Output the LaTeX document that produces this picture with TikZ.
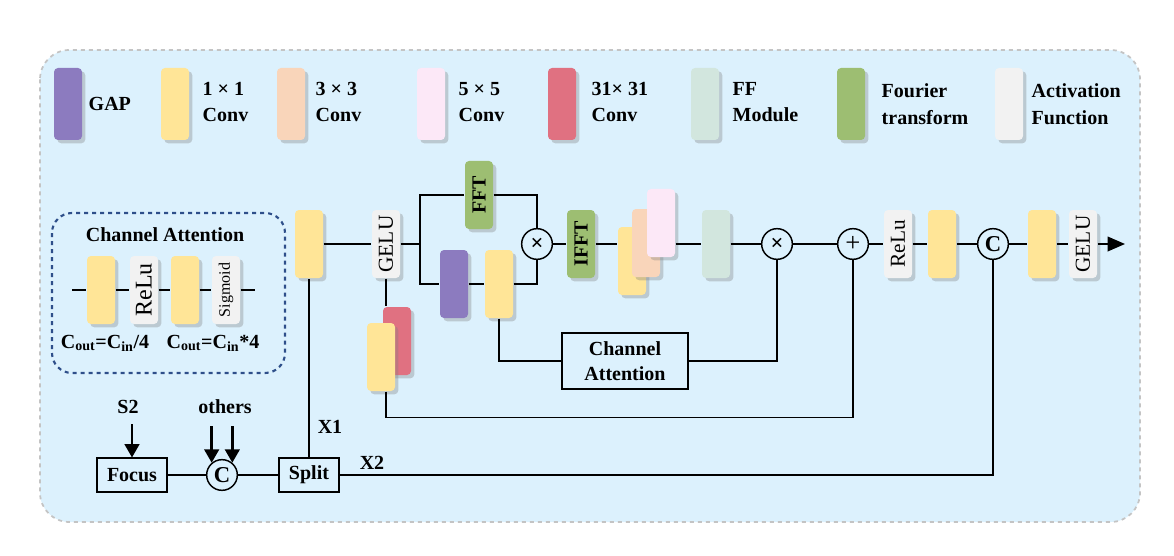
\documentclass[tikz,border=0pt]{standalone}
\usepackage{fontspec}
\setmainfont{Liberation Serif}
\usetikzlibrary{arrows.meta,shadows}

\definecolor{bgblue}{HTML}{DCF1FD}
\definecolor{bggray}{HTML}{C4C4C4}
\definecolor{cablue}{HTML}{2E4F8A}
\definecolor{yel}{HTML}{FFE597}
\definecolor{peach}{HTML}{F9D5BA}
\definecolor{pinky}{HTML}{FCE8F7}
\definecolor{redc}{HTML}{E07181}
\definecolor{purp}{HTML}{8C7BBF}
\definecolor{mint}{HTML}{D2E6DE}
\definecolor{fgreen}{HTML}{9DBE72}
\definecolor{actgray}{HTML}{F2F2F2}

\newcommand{\vtext}[1]{\rotatebox{90}{#1}}

\tikzset{
  blockbase/.style={rounded corners=3pt, minimum width=21pt, minimum height=51pt, inner sep=0pt,
    drop shadow={shadow xshift=2.5pt, shadow yshift=-2.5pt, opacity=0.35}},
  legblk/.style={minimum height=54pt},
  convone/.style={blockbase, fill=yel},
  convthree/.style={blockbase, fill=peach},
  convfive/.style={blockbase, fill=pinky},
  convbig/.style={blockbase, fill=redc},
  gapblk/.style={blockbase, fill=purp},
  ffblk/.style={blockbase, fill=mint},
  fftblk/.style={blockbase, fill=fgreen, font=\bfseries\fontsize{15}{15}\selectfont},
  actblk/.style={blockbase, fill=actgray, font=\fontsize{16}{16}\selectfont},
  lbl/.style={font=\bfseries\fontsize{15}{20}\selectfont, align=left, anchor=west, inner sep=0pt},
  txt/.style={font=\bfseries\fontsize{15}{18}\selectfont, inner sep=0pt},
  opcirc/.style={circle, draw, minimum size=23pt, inner sep=0pt, font=\bfseries\fontsize{17}{17}\selectfont},
  boxnode/.style={draw, line width=1.3pt, font=\bfseries\fontsize{15}{19}\selectfont, align=center, inner sep=0pt},
  inarrow/.style={line width=1.8pt, >={Triangle[length=10pt,width=11pt]}},
}

\begin{document}
\begin{tikzpicture}[x=0.75pt, y=-0.75pt, line width=1.1pt, >={Triangle[length=13pt,width=11pt]}]
  \useasboundingbox (0,0) rectangle (1174,556);
  \draw[bggray, fill=bgblue, dashed, line width=1.3pt, rounded corners=22pt] (40,50) rectangle (1140,522);

  % legend
  \node[gapblk, legblk] (lgap) at (68,104) {};
  \node[lbl] at (88,104) {GAP};
  \node[convone, legblk] (lone) at (175,104) {};
  \node[lbl] at (202,102) {1 × 1\\Conv};
  \node[convthree, legblk] (lthree) at (291,104) {};
  \node[lbl] at (315,102) {3 × 3\\Conv};
  \node[convfive, legblk] (lfive) at (431,104) {};
  \node[lbl] at (458,102) {5 × 5\\Conv};
  \node[convbig, legblk] (lbig) at (562,104) {};
  \node[lbl] at (591,102) {31× 31\\Conv};
  \node[ffblk, legblk] (lff) at (705,104) {};
  \node[lbl] at (732,102) {FF\\Module};
  \node[fftblk, legblk] (lfft) at (851,104) {};
  \node[lbl] at (881,104) {Fourier\\transform};
  \node[actblk, legblk] (lact) at (1009,104) {};
  \node[lbl] at (1031,104) {Activation\\Function};

  % channel attention detail
  \draw[cablue, dashed, line width=1.6pt, rounded corners=15pt] (52,213) rectangle (285,373);
  \node[txt] (catitle) at (165,235) {Channel Attention};
  \coordinate (cain) at (72,290);
  \coordinate (caout) at (255,290);
  \node[convone] (caone) at (101,290) {};
  \node[actblk, font=\fontsize{18}{18}\selectfont] (carelu) at (144,290) {\vtext{ReLu}};
  \node[convone] (catwo) at (185,290) {};
  \node[actblk, font=\fontsize{12}{12}\selectfont] (casig) at (226,290) {\vtext{Sigmoid}};
  \draw (cain) -- (caone) -- (carelu) -- (catwo) -- (casig) -- (caout);
  \node[txt] at (105,343) {C\textsubscript{out}=C\textsubscript{in}/4};
  \node[txt] at (213,343) {C\textsubscript{out}=C\textsubscript{in}*4};

  % main path
  \node[convone] (convA) at (309,244) {};
  \node[actblk] (gelu1) at (386,244) {\vtext{GELU}};
  \coordinate (fork) at (420,244);
  \node[fftblk] (fft) at (479,195) {\vtext{FFT}};
  \node[gapblk] (gapm) at (454,284) {};
  \node[convone] (convB) at (499,284) {};
  \node[opcirc] (mulA) at (537,244) {×};
  \node[fftblk] (ifft) at (581,244) {\vtext{IFFT}};
  \node[convone] (kone) at (632,261) {};
  \node[convthree] (kthree) at (646,243) {};
  \node[convfive] (kfive) at (661,223) {};
  \node[ffblk] (ffm) at (716,244) {};
  \node[opcirc] (mulB) at (777,244) {×};
  \node[opcirc, font=\fontsize{20}{20}\selectfont] (addA) at (853,244) {+};
  \node[actblk] (relu) at (898,244) {\vtext{ReLu}};
  \node[convone] (convC) at (942,244) {};
  \node[opcirc] (catA) at (993,244) {C};
  \node[convone] (convD) at (1042,244) {};
  \node[actblk] (gelu2) at (1083,244) {\vtext{GELU}};
  \coordinate (out) at (1125,244);

  \node[convbig] (kbig) at (397,341) {};
  \node[convone] (kbigone) at (381,357) {};
  \node[boxnode, minimum width=94pt, minimum height=42pt] (cabox) at (625,361) {Channel\\Attention};

  % input part
  \node[boxnode, minimum width=52pt, minimum height=25pt] (focus) at (132,475) {Focus};
  \node[opcirc] (catB) at (222,475) {C};
  \node[boxnode, minimum width=45pt, minimum height=25pt] (split) at (309,475) {Split};
  \node[txt] (s2) at (128,407) {S2};
  \node[txt] (others) at (225,407) {others};
  \node[txt] (xone) at (330,427) {X1};
  \node[txt] (xtwo) at (372,463) {X2};
  \coordinate (s2top) at (132,424);

  \draw (convA) -- (gelu1);
  \draw (gelu1) -- (fork) |- (fft);
  \draw (fork) |- (gapm);
  \draw (gapm) -- (convB);
  \draw (fft) -| (mulA);
  \draw (convB) -| (mulA);
  \draw (mulA) -- (ifft);
  \draw (ifft.east) -- (ifft.east -| kone.west);
  \draw (kfive.east |- ffm) -- (ffm);
  \draw (ffm) -- (mulB) -- (addA) -- (relu) -- (convC) -- (catA) -- (convD) -- (gelu2);
  \draw[->] (gelu2) -- (out);
  \draw (convB) |- (cabox);
  \draw (cabox) -| (mulB);
  \draw (gelu1) -- (gelu1 |- kbig.north);
  \draw (gelu1 |- kbigone.south) -- ++(0,26) -| (addA);
  \draw (focus) -- (catB) -- (split);
  \draw (split) -- (convA);
  \draw (split) -| (catA);
  \draw[->, inarrow] (s2top) -- (focus.north);
  \draw[<-, inarrow] (catB.130) -- ++(0,-37);
  \draw[<-, inarrow] (catB.50) -- ++(0,-37);
\end{tikzpicture}
\end{document}
